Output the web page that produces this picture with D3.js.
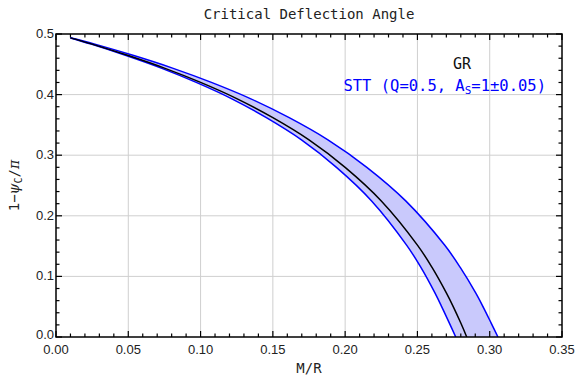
<!DOCTYPE html>
<html><head><meta charset="utf-8">
<script src="https://cdn.jsdelivr.net/npm/d3@7/dist/d3.min.js"></script>
<style>body{margin:0;background:#fff}svg{display:block}</style>
</head><body>
<svg id="c" width="579" height="383"></svg>
<script>
// GR curve: M/R vs 1 - psi_c/pi
const grX = [0.01, 0.025, 0.05, 0.075, 0.1, 0.125, 0.15, 0.175, 0.2, 0.225, 0.25, 0.26, 0.27, 0.275, 0.28, 0.2841];
const grY = [0.4936, 0.4833, 0.4644, 0.4437, 0.4201, 0.3934, 0.3619, 0.3253, 0.2800, 0.2246, 0.1517, 0.1153, 0.0728, 0.0490, 0.0230, 0.0];
// STT band, upper edge
const upX = [0.01, 0.0269, 0.0538, 0.0806, 0.1075, 0.1344, 0.1613, 0.1881, 0.215, 0.2419, 0.2688, 0.2795, 0.2903, 0.2956, 0.301, 0.3057];
const upY = [0.4939, 0.4833, 0.4644, 0.4437, 0.4201, 0.3934, 0.3619, 0.3253, 0.2800, 0.2246, 0.1517, 0.1153, 0.0728, 0.0490, 0.0230, 0.0];
// STT band, lower edge
const loX = [0.01, 0.0243, 0.0485, 0.0728, 0.097, 0.1213, 0.1455, 0.1698, 0.194, 0.2183, 0.2425, 0.2523, 0.2621, 0.267, 0.2721, 0.2765];
const loY = [0.4935, 0.4833, 0.4644, 0.4437, 0.4201, 0.3934, 0.3619, 0.3253, 0.2800, 0.2246, 0.1517, 0.1153, 0.0728, 0.0490, 0.0230, 0.0];
const xTicks = [0, 0.05, 0.1, 0.15, 0.2, 0.25, 0.3, 0.35];
const yTicks = [0, 0.1, 0.2, 0.3, 0.4, 0.5];

const L = 56, R = 562, T = 34, B = 337;
const svg = d3.select("#c");
const x = d3.scaleLinear().domain([0, 0.35]).range([L, R]);
const y = d3.scaleLinear().domain([0, 0.5]).range([B, T]);
const mono = "'DejaVu Sans Mono', monospace";
const sans = "'Liberation Sans', Arial, sans-serif";

// grid
const g = svg.append("g");
g.selectAll(".gx").data(xTicks.slice(1, -1)).enter().append("line")
  .attr("x1", d => x(d)).attr("x2", d => x(d)).attr("y1", T).attr("y2", B)
  .attr("stroke", "#cfcfcf").attr("stroke-width", 1);
g.selectAll(".gy").data(yTicks.slice(1, -1)).enter().append("line")
  .attr("y1", d => y(d)).attr("y2", d => y(d)).attr("x1", L).attr("x2", R)
  .attr("stroke", "#cfcfcf").attr("stroke-width", 1);

svg.append("clipPath").attr("id", "cp").append("rect")
  .attr("x", L).attr("y", T).attr("width", R - L).attr("height", B - T);

const line = d3.line().x(d => x(d[0])).y(d => y(d[1])).curve(d3.curveCatmullRom);
const up = upX.map((v, i) => [v, upY[i]]);
const lo = loX.map((v, i) => [v, loY[i]]);
const gr = grX.map((v, i) => [v, grY[i]]);
const pg = svg.append("g").attr("clip-path", "url(#cp)");
pg.append("path").attr("d", line(up) + "L" + line(lo.slice().reverse()).slice(1) + "Z")
  .attr("fill", "#c9c9fc").attr("stroke", "none");
pg.append("path").attr("d", line(up)).attr("fill", "none").attr("stroke", "#0000ff").attr("stroke-width", 1.5);
pg.append("path").attr("d", line(lo)).attr("fill", "none").attr("stroke", "#0000ff").attr("stroke-width", 1.5);
pg.append("path").attr("d", line(gr)).attr("fill", "none").attr("stroke", "#000").attr("stroke-width", 1.5);

// frame
svg.append("rect").attr("x", L).attr("y", T).attr("width", R - L).attr("height", B - T)
  .attr("fill", "none").attr("stroke", "#000").attr("stroke-width", 1.5);

// ticks
const tk = svg.append("g").attr("stroke", "#000").attr("stroke-width", 1.2);
const xMinor = d3.range(0, 36).map(i => i / 100);
const yMinor = d3.range(0, 26).map(i => i / 50);
xMinor.forEach(v => {
  const major = Math.abs(v * 20 - Math.round(v * 20)) < 1e-6;
  const len = major ? 6 : 3.5;
  tk.append("line").attr("x1", x(v)).attr("x2", x(v)).attr("y1", B).attr("y2", B - len);
  tk.append("line").attr("x1", x(v)).attr("x2", x(v)).attr("y1", T).attr("y2", T + len);
});
yMinor.forEach(v => {
  const major = Math.abs(v * 10 - Math.round(v * 10)) < 1e-6;
  const len = major ? 6 : 3.5;
  tk.append("line").attr("y1", y(v)).attr("y2", y(v)).attr("x1", L).attr("x2", L + len);
  tk.append("line").attr("y1", y(v)).attr("y2", y(v)).attr("x1", R).attr("x2", R - len);
});

// tick labels
svg.selectAll(".xl").data(xTicks).enter().append("text")
  .attr("x", d => x(d)).attr("y", B + 17).attr("text-anchor", "middle")
  .attr("font-family", sans).attr("font-size", 13).attr("fill", "#222")
  .text(d => d.toFixed(2));
svg.selectAll(".yl").data(yTicks).enter().append("text")
  .attr("x", L - 2).attr("y", d => y(d) + (d === 0 ? 2 : 4)).attr("text-anchor", "end")
  .attr("font-family", sans).attr("font-size", 13).attr("fill", "#222")
  .text(d => d.toFixed(1));

// title and axis labels
svg.append("text").attr("x", (L + R) / 2).attr("y", 19).attr("text-anchor", "middle")
  .attr("font-family", mono).attr("font-size", 14).attr("fill", "#222").text("Critical Deflection Angle");
svg.append("text").attr("x", (L + R) / 2).attr("y", 373).attr("text-anchor", "middle")
  .attr("font-family", mono).attr("font-size", 14).attr("fill", "#222").text("M/R");
const yl = svg.append("text").attr("transform", `translate(19,${(T + B) / 2}) rotate(-90)`)
  .attr("text-anchor", "middle").attr("font-family", mono).attr("font-size", 14).attr("fill", "#222");
yl.append("tspan").text("1−");
yl.append("tspan").attr("font-family", "'DejaVu Serif', serif").attr("font-style", "italic").text("ψ");
yl.append("tspan").attr("font-size", 10).attr("dy", 3).text("C");
yl.append("tspan").attr("dy", -3).text("/");
yl.append("tspan").attr("font-family", "'DejaVu Serif', serif").attr("font-style", "italic").text("π");

// legend
svg.append("text").attr("x", 462).attr("y", 69).attr("text-anchor", "middle")
  .attr("font-family", mono).attr("font-size", 15).attr("fill", "#111").text("GR");
const lt = svg.append("text").attr("x", 546).attr("y", 91).attr("text-anchor", "end")
  .attr("font-family", mono).attr("font-size", 15.5).attr("fill", "#0000ff");
lt.append("tspan").text("STT (Q=0.5, A");
lt.append("tspan").attr("font-size", 11).attr("dy", 3).text("S");
lt.append("tspan").attr("dy", -3).text("=1±0.05)");
</script>
</body></html>
